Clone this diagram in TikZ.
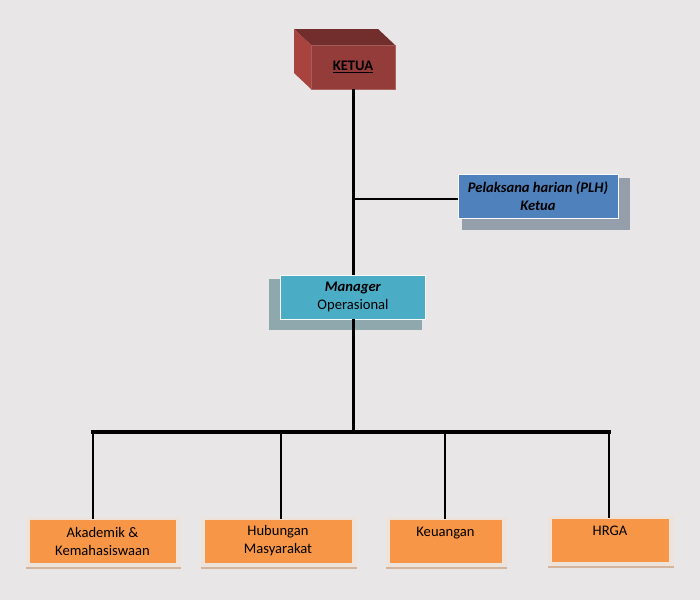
\documentclass[tikz,border=0pt]{standalone}
\usepackage{fontspec}
\setmainfont{Carlito}
\usepackage{tikz}
\definecolor{paper}{HTML}{E8E6E7}
\definecolor{ketuafront}{HTML}{943C39}
\definecolor{ketuatop}{HTML}{722E2C}
\definecolor{ketualeft}{HTML}{A8433F}
\definecolor{plhblue}{HTML}{4F81BD}
\definecolor{plhshade}{HTML}{959EAB}
\definecolor{mgrblue}{HTML}{4BACC6}
\definecolor{mgrshade}{HTML}{8EA8AE}
\definecolor{unitorange}{HTML}{F79646}
\definecolor{unitshade}{HTML}{EEE3DA}
\definecolor{unitedge}{HTML}{D3B49C}
\newcommand{\boxheight}{44pt}
\newcommand{\boxfont}{\fontsize{14.6}{18}\selectfont}
\pgfdeclarelayer{shade}
\pgfsetlayers{shade,main}
\tikzstyle{box}=[inner sep=0, outer sep=0, align=center, minimum height=\boxheight,
                 font=\boxfont, draw=white!80!paper, line width=1pt]
\tikzstyle{ketuabox}=[box, fill=ketuafront, draw=ketuafront!80!white, minimum width=84pt, font=\boxfont\bfseries]
\tikzstyle{plhbox}=[box, fill=plhblue, minimum width=160pt, font=\boxfont\bfseries\itshape]
\tikzstyle{mgrbox}=[box, fill=mgrblue, minimum width=145pt]
\tikzstyle{unitbox}=[box, fill=unitorange, draw=unitshade]
\tikzstyle{spine}=[line width=3pt]
\tikzstyle{bar}=[line width=4pt, line cap=rect]
\tikzstyle{branch}=[line width=1.6pt]
\tikzstyle{orgchart}=[x=1pt, y=-1pt]

\begin{document}
\begin{tikzpicture}[orgchart]
        % top
        \node[ketuabox] (ketua) at (353, 67) {\underline{KETUA}};
        \fill[ketuatop] (ketua.north west) -- ++(-17, -16) -- ([shift={(-17, -16)}]ketua.north east) -- (ketua.north east) -- cycle;
        \fill[ketualeft] (ketua.north west) -- ++(-17, -16) -- ([shift={(-17, -16)}]ketua.south west) -- (ketua.south west) -- cycle;
        \node[plhbox] (plh) at (538, 196) {Pelaksana harian (PLH)\\Ketua};
        \node[mgrbox] (manager) at (353, 297) {\textbf{\textit{Manager}}\\Operasional};
        % units
        \node[unitbox, minimum width=147pt] (akademik) at (102.5, 541) {Akademik \&\\Kemahasiswaan};
        \node[unitbox, minimum width=148pt] (hubungan) at (278, 541) {Hubungan\\Masyarakat};
        \node[unitbox, minimum width=113pt] (keuangan) at (445.5, 541) {Keuangan\\\mbox{}};
        \node[unitbox, minimum width=118pt] (hrga) at (610, 540) {HRGA\\\mbox{}};
        % lines
        \coordinate (plhjoin) at (353, 199);
        \coordinate (b1) at (93, 432);
        \coordinate (b2) at (281, 432);
        \coordinate (b3) at (445, 432);
        \coordinate (b4) at (609, 432);
        \draw[spine] (ketua.south) -- (manager.north);
        \draw[branch] (plhjoin) -- (plhjoin -| plh.west);
        \draw[spine] (manager.south) -- (manager.south |- b1);
        \draw[bar] (b1) -- (b4);
        \draw[branch] (b1) -- (b1 |- akademik.north);
        \draw[branch] (b2) -- (b2 |- hubungan.north);
        \draw[branch] (b3) -- (b3 |- keuangan.north);
        \draw[branch] (b4) -- (b4 |- hrga.north);
        % shadows and paper
        \begin{pgfonlayer}{shade}
            \fill[paper] (0, 0) rectangle (700, 600);
            \fill[plhshade] ([shift={(4, 4)}]plh.north west) rectangle ([shift={(12, 12)}]plh.south east);
            \fill[mgrshade] ([shift={(-12, 4)}]manager.north west) rectangle ([shift={(-4, 11)}]manager.south east);
            \foreach \u in {akademik, hubungan, keuangan, hrga} {
                \fill[unitshade] ([shift={(-3, -2)}]\u.north west) rectangle ([shift={(5, 6)}]\u.south east);
                \draw[unitedge, line width=2pt] ([shift={(-3, 5)}]\u.south west) -- ([shift={(5, 5)}]\u.south east);
            }
        \end{pgfonlayer}
    \end{tikzpicture}
\end{document}
